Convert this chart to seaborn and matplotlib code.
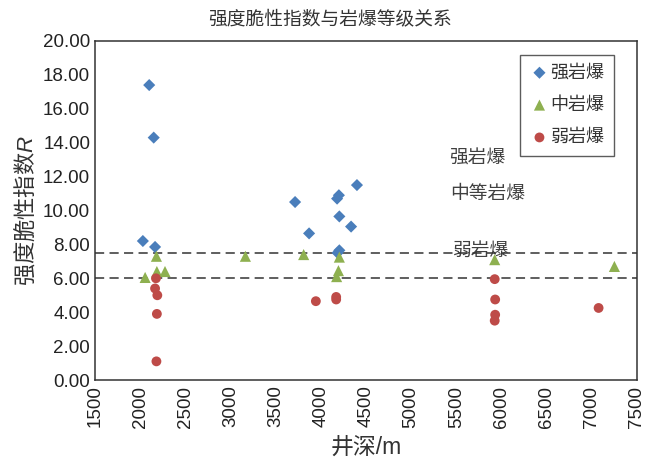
import pandas as pd
import seaborn as sns
import matplotlib.pyplot as plt
from matplotlib.ticker import FormatStrFormatter, MultipleLocator

# Data (depth in m, brittleness index R)
strong_depth = [2100, 2150, 2030, 2165, 3715, 3870, 4180, 4200, 4205, 4335, 4400, 4185, 4205]
strong_r = [17.4, 14.3, 8.2, 7.85, 10.5, 8.65, 10.7, 10.9, 9.65, 9.05, 11.5, 7.5, 7.65]

medium_depth = [2055, 2180, 2185, 2275, 3165, 3810, 4175, 4195, 4205, 5925, 7250]
medium_r = [6.05, 7.3, 6.4, 6.4, 7.3, 7.4, 6.1, 6.45, 7.25, 7.1, 6.7]

weak_depth = [2175, 2165, 2190, 2185, 2180, 3945, 4170, 4170, 5925, 5930, 5930, 5925, 7075]
weak_r = [6.0, 5.4, 5.0, 3.9, 1.1, 4.65, 4.9, 4.75, 5.95, 4.75, 3.85, 3.5, 4.25]

grades = ['强岩爆', '中岩爆', '弱岩爆']
colors = {'强岩爆': '#4A7EBB', '中岩爆': '#8EB050', '弱岩爆': '#BE4B48'}
markers = {'强岩爆': 'D', '中岩爆': '^', '弱岩爆': 'o'}
sizes = {'强岩爆': 38, '中岩爆': 64, '弱岩爆': 50}

thresholds = [7.5, 6.0]
zone_labels = [('强岩爆', 5420, 13.1), ('中等岩爆', 5430, 10.95), ('弱岩爆', 5450, 7.6)]

df = pd.concat([
    pd.DataFrame({'depth': strong_depth, 'R': strong_r, 'grade': '强岩爆'}),
    pd.DataFrame({'depth': medium_depth, 'R': medium_r, 'grade': '中岩爆'}),
    pd.DataFrame({'depth': weak_depth, 'R': weak_r, 'grade': '弱岩爆'}),
], ignore_index=True)


def main():
    sns.set_style('white')
    plt.rcParams['font.family'] = ['Liberation Sans', 'Noto Sans CJK SC', 'DejaVu Sans']
    plt.rcParams['mathtext.fontset'] = 'custom'
    plt.rcParams['mathtext.it'] = 'Liberation Sans:italic'
    plt.rcParams['mathtext.rm'] = 'Noto Sans CJK SC'

    fig = plt.figure(figsize=(6.48, 4.58), dpi=100)
    ax = fig.add_axes([0.1466, 0.1703, 0.8364, 0.7402])

    for g in grades:
        sub = df[df['grade'] == g]
        sns.scatterplot(data=sub, x='depth', y='R', ax=ax, color=colors[g],
                        marker=markers[g], s=sizes[g], edgecolor='none',
                        label=g, zorder=3)

    for t in thresholds:
        ax.axhline(t, color='#333333', linestyle=(0, (6, 3.5)), linewidth=1.1, zorder=2)

    for txt, x, y in zone_labels:
        ax.text(x, y, txt, fontsize=13.5, color='#404040', va='center', ha='left', zorder=1)

    ax.set_xlim(1500, 7500)
    ax.set_ylim(0, 20)
    ax.xaxis.set_major_locator(MultipleLocator(500))
    ax.yaxis.set_major_locator(MultipleLocator(2))
    ax.yaxis.set_major_formatter(FormatStrFormatter('%.2f'))
    ax.tick_params(axis='both', direction='in', length=5, width=1, colors='#333333',
                   labelsize=13.5, labelcolor='#222222')
    ax.tick_params(axis='x', labelrotation=90, pad=4)
    for sp in ax.spines.values():
        sp.set_color('#333333')
        sp.set_linewidth(1.1)

    fig.text(0.51, 0.958, '强度脆性指数与岩爆等级关系', fontsize=13.5, color='#333333',
             ha='center', va='center')
    ax.set_xlabel('井深/m', fontsize=16.5, color='#333333', labelpad=6)
    ax.set_ylabel(r'$\mathrm{强度脆性指数}\mathit{R}$', fontsize=16, color='#333333', labelpad=4)

    leg = ax.legend(loc='upper right', bbox_to_anchor=(0.958, 0.96), fontsize=13,
                    frameon=True, fancybox=False, handletextpad=0.1, borderpad=0.55,
                    labelspacing=0.85, handlelength=1.0, markerscale=1.0, borderaxespad=0)
    leg.get_frame().set_edgecolor('#333333')
    leg.get_frame().set_linewidth(1.0)
    for t in leg.get_texts():
        t.set_color('#333333')

    fig.savefig('out.png', dpi=100)


if __name__ == '__main__':
    main()
